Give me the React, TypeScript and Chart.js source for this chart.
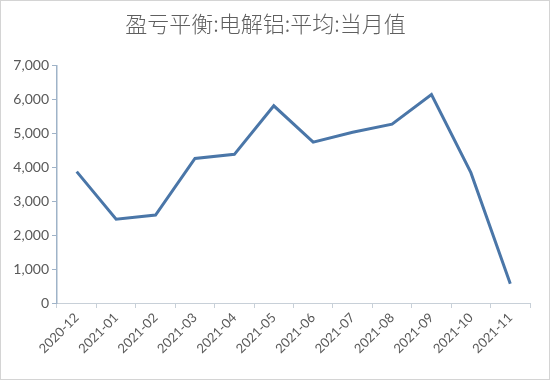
import React, { useEffect, useRef } from "react";
import { Chart, registerables } from "chart.js";

Chart.register(...registerables);

const categories = [
  "2020-12", "2021-01", "2021-02", "2021-03", "2021-04", "2021-05",
  "2021-06", "2021-07", "2021-08", "2021-09", "2021-10", "2021-11",
];
const values = [3870, 2470, 2590, 4260, 4380, 5810, 4740, 5030, 5270, 6140, 3840, 570];
const titleText = "盈亏平衡:电解铝:平均:当月值";

export default function App() {
  const ref = useRef<HTMLCanvasElement | null>(null);
  useEffect(() => {
    document.body.style.margin = "0";
    if (!ref.current) return;
    const chart = new Chart(ref.current, {
      type: "line",
      data: {
        labels: categories,
        datasets: [
          {
            data: values,
            borderColor: "#4a76a8",
            borderWidth: 3,
            pointRadius: 0,
            tension: 0,
            fill: false,
          },
        ],
      },
      options: {
        responsive: false,
        animation: false,
        layout: { padding: { top: 0, left: 0, right: 19, bottom: 0 } },
        plugins: {
          legend: { display: false },
          tooltip: { enabled: false },
          title: {
            display: true,
            text: titleText,
            color: "#5f5f5f",
            font: { family: "'Noto Sans CJK SC', sans-serif", size: 22, weight: "300" },
            padding: { top: 9, bottom: 29 },
          },
        },
        scales: {
          x: {
            offset: true,
            grid: {
              offset: true,
              drawOnChartArea: false,
              drawTicks: true,
              tickLength: 5,
              color: "#c8d0d8",
            },
            border: { color: "#c8d0d8" },
            ticks: {
              minRotation: 45,
              maxRotation: 45,
              color: "#595959",
              font: { family: "Lato, 'Open Sans', sans-serif", size: 13 },
              padding: 2,
            },
            afterFit: (s: any) => {
              s.height = 76;
            },
          },
          y: {
            min: 0,
            max: 7000,
            grid: {
              drawOnChartArea: false,
              drawTicks: true,
              tickLength: 5,
              color: "#9fb3c8",
            },
            border: { color: "#9fb3c8", width: 1.5 },
            ticks: {
              stepSize: 1000,
              color: "#595959",
              font: { family: "Lato, 'Open Sans', sans-serif", size: 14 },
              padding: 3,
              callback: (v: any) => Number(v).toLocaleString("en-US"),
            },
            afterFit: (s: any) => {
              s.width = 56;
            },
          },
        },
      },
    });
    return () => chart.destroy();
  }, []);
  return (
    <div
      style={{
        width: 550,
        height: 380,
        boxSizing: "border-box",
        border: "1px solid #d4d4d4",
        background: "#fff",
      }}
    >
      <canvas ref={ref} width={548} height={378} style={{ display: "block" }} />
    </div>
  );
}
